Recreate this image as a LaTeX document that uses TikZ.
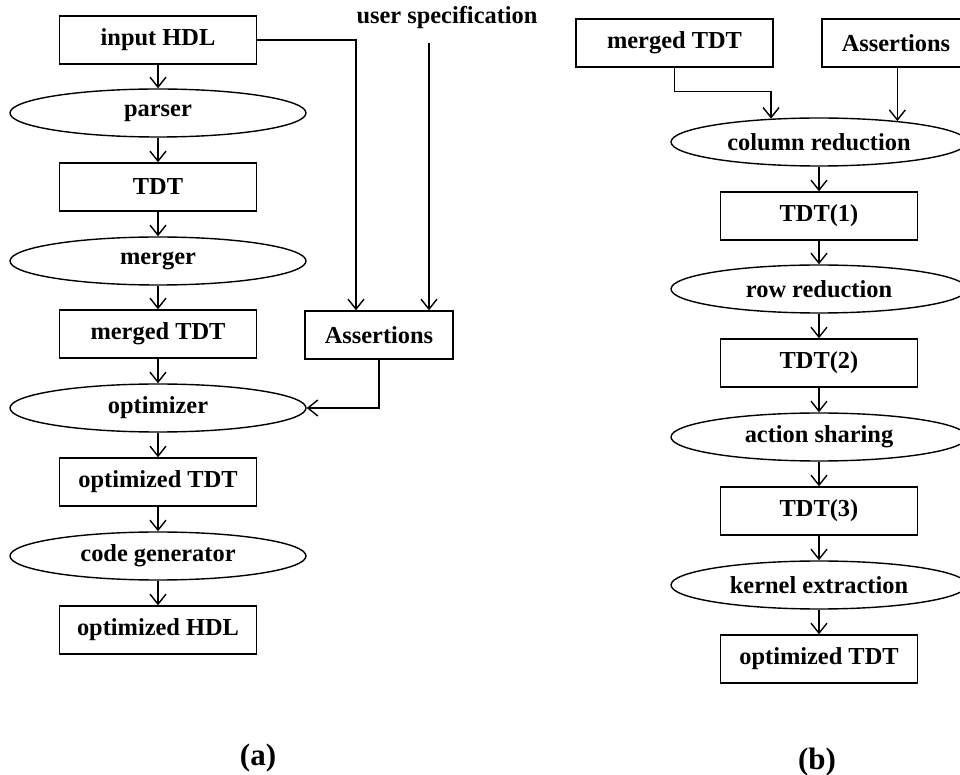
\documentclass[tikz,border=0pt]{standalone}
\usepackage{fontspec}
\setmainfont{Liberation Serif}
\usetikzlibrary{shapes.geometric,arrows.meta}

\begin{document}
\begin{tikzpicture}[
  x=0.5pt, y=-0.5pt,
  font=\fontsize{12.2}{14}\selectfont\bfseries,
  >={Straight Barb[length=5pt,width=8pt]}, line width=0.7pt,
  box/.style={draw, minimum width=98.5pt, minimum height=24pt, inner sep=2pt},
  abox/.style={box, minimum width=74pt},
  proc/.style={draw, ellipse, minimum width=148pt, minimum height=24pt, inner sep=1pt},
  lbl/.style={font=\fontsize{15.5}{18}\selectfont\bfseries},
]
\useasboundingbox (0,0) rectangle (960,775);
\clip (0,0) rectangle (960,775);
% (a) left flow
\node[box]  (inHDL)   at (158,40)  {input HDL};
\node[proc] (parser)  at (158,113) {parser};
\node[box]  (tdt)     at (158,187) {TDT};
\node[proc] (merger)  at (158,261) {merger};
\node[box]  (mTDT)    at (158,334) {merged TDT};
\node[proc] (opt)     at (158,408) {optimizer};
\node[box]  (oTDT)    at (158,482) {optimized TDT};
\node[proc] (codegen) at (158,556) {code generator};
\node[box]  (oHDL)    at (158,630) {optimized HDL};
\node[abox] (asrtA)   at (379,335) {Assertions};
\node[inner sep=0pt] (user) at (447,18) {user specification};
\node[lbl]  (capA)    at (258,758) {(a)};

\draw[->] (inHDL) -- (parser);
\draw[->] (parser) -- (tdt);
\draw[->] (tdt) -- (merger);
\draw[->] (merger) -- (mTDT);
\draw[->] (mTDT) -- (opt);
\draw[->] (opt) -- (oTDT);
\draw[->] (oTDT) -- (codegen);
\draw[->] (codegen) -- (oHDL);
\draw[->] (inHDL.east) -| ([xshift=-11.5pt]asrtA.north);
\draw[->] ([xshift=-9pt,yshift=-6.5pt]user.south) -- ([xshift=25pt]asrtA.north);
\draw[->] (asrtA.south) |- (opt.east);

% (b) optimizer
\node[box]  (mTDTb)    at (674.5,43) {merged TDT};
\node[abox] (asrtB)    at (896,43)   {Assertions};
\node[proc] (colred)   at (819,142)  {column reduction};
\node[box]  (tdt1)     at (819,216)  {TDT(1)};
\node[proc] (rowred)   at (819,289)  {row reduction};
\node[box]  (tdt2)     at (819,363)  {TDT(2)};
\node[proc] (actshare) at (819,437)  {action sharing};
\node[box]  (tdt3)     at (819,511)  {TDT(3)};
\node[proc] (kernel)   at (819,585)  {kernel extraction};
\node[box]  (oTDTb)    at (819,659)  {optimized TDT};
\node[lbl]  (capB)     at (817,762)  {(b)};

\draw[->] (mTDTb.south) -- ++(0,24) -| (colred.154);
\draw[->] (asrtB.south -| colred.15) -- (colred.15);
\draw[->] (colred) -- (tdt1);
\draw[->] (tdt1) -- (rowred);
\draw[->] (rowred) -- (tdt2);
\draw[->] (tdt2) -- (actshare);
\draw[->] (actshare) -- (tdt3);
\draw[->] (tdt3) -- (kernel);
\draw[->] (kernel) -- (oTDTb);
\end{tikzpicture}
\end{document}
